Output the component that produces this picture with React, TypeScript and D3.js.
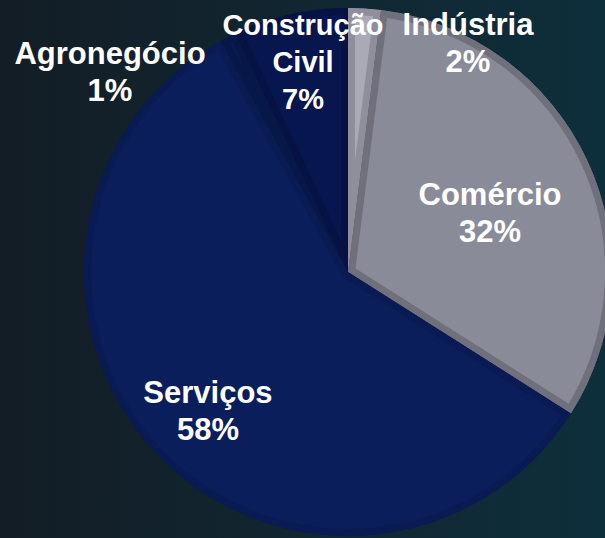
import React from "react";
import * as d3 from "d3";

const categories = ["Indústria", "Comércio", "Serviços", "Agronegócio", "Construção Civil"];
const values = [2, 32, 58, 1, 7];
const fills = ["#a9aab6", "#8a8b99", "#0b1e5c", "#0a1c56", "#081650"];
const borders = ["#8e8f9b", "#6f707c", "#091b52", "#071748", "#061243"];
const labelLines: string[][] = [
  ["Indústria", "2%"],
  ["Comércio", "32%"],
  ["Serviços", "58%"],
  ["Agronegócio", "1%"],
  ["Construção", "Civil", "7%"],
];
const labelPos: [number, number][] = [
  [468, 35],
  [490, 205],
  [208, 403],
  [110, 64],
  [303, 35],
];
const labelSize = [31, 31, 31, 31, 29];

const W = 605;
const H = 538;
const cx = 348;
const cy = 272;
const R = 264;

export default function App() {
  const pie = d3.pie<number>().sort(null).startAngle(0).endAngle(2 * Math.PI);
  const arcs = pie(values);
  const arcGen = d3.arc<d3.PieArcDatum<number>>().innerRadius(0).outerRadius(R);
  return (
    <svg width={W} height={H} style={{ position: "absolute", left: 0, top: 0 }}>
      <defs>
        <linearGradient id="bg" x1="0" y1="0" x2="1" y2="0">
          <stop offset="0" stopColor="#131d25" />
          <stop offset="0.5" stopColor="#112631" />
          <stop offset="1" stopColor="#0d2f3b" />
        </linearGradient>
        {arcs.map((a, i) => (
          <clipPath id={"clip" + i} key={i}>
            <path d={arcGen(a) || ""} transform={`translate(${cx},${cy})`} />
          </clipPath>
        ))}
      </defs>
      <rect width={W} height={H} fill="url(#bg)" />
      <g>
        {arcs.map((a, i) => (
          <g key={i} clipPath={`url(#clip${i})`}>
            <path
              d={arcGen(a) || ""}
              transform={`translate(${cx},${cy})`}
              fill={fills[i]}
              stroke={borders[i]}
              strokeWidth={14}
              strokeLinejoin="miter"
            />
          </g>
        ))}
      </g>
      {labelLines.map((lines, i) => (
        <text
          key={i}
          x={labelPos[i][0]}
          y={labelPos[i][1]}
          fill="#ffffff"
          fontFamily="'Liberation Sans', Arial, sans-serif"
          fontWeight="bold"
          fontSize={labelSize[i]}
          textAnchor="middle"
        >
          {lines.map((l, j) => (
            <tspan key={j} x={labelPos[i][0]} dy={j === 0 ? 0 : 37}>
              {l}
            </tspan>
          ))}
        </text>
      ))}
    </svg>
  );
}
